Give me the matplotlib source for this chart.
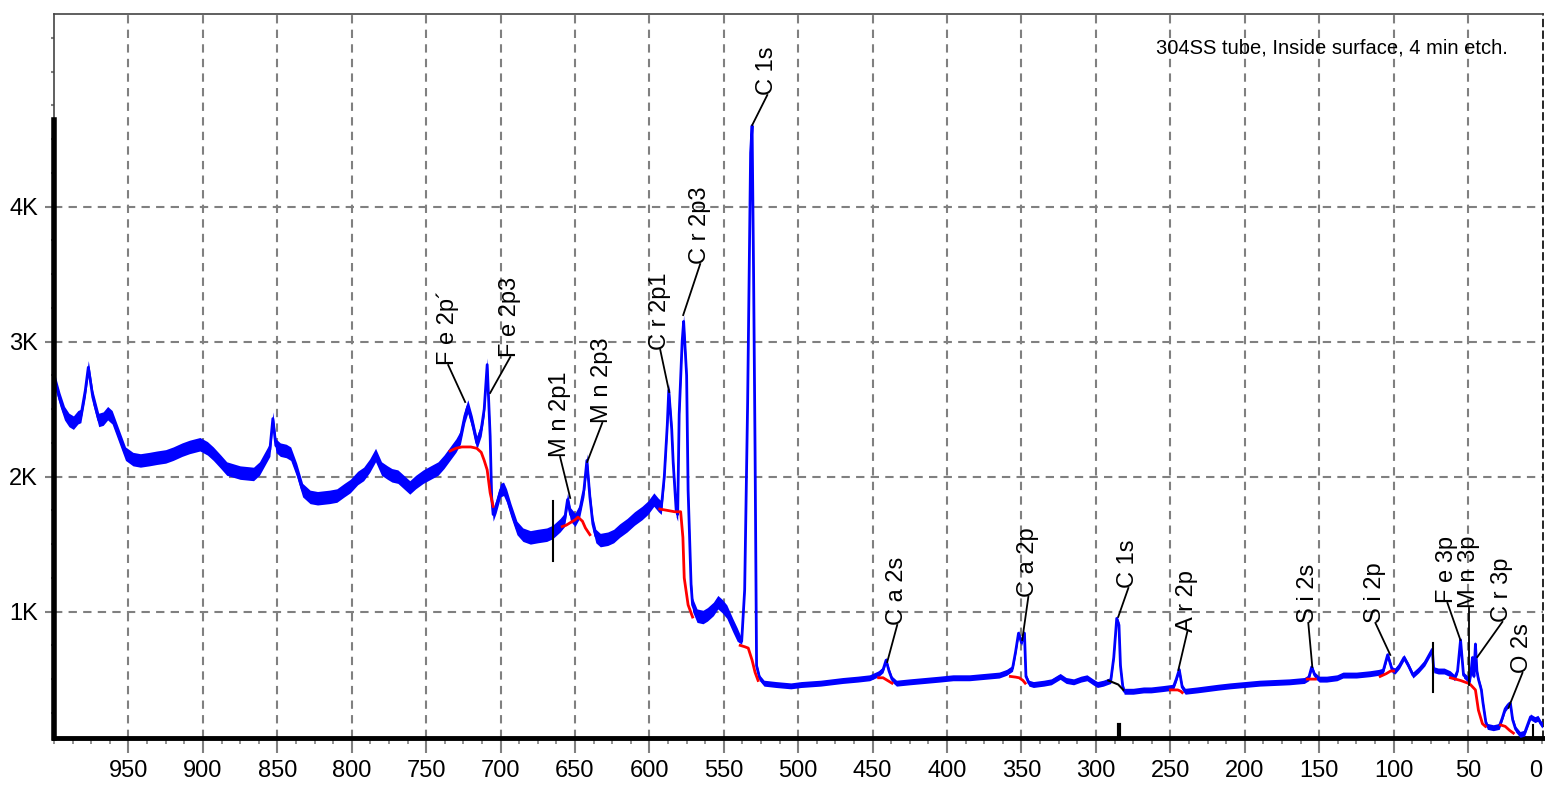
import numpy as np
import matplotlib
matplotlib.use("Agg")
import matplotlib.pyplot as plt
from matplotlib import font_manager as fm
from matplotlib.ticker import MultipleLocator, FixedLocator

# pick a narrow font for the tick labels if it is there
narrow = "Liberation Sans Narrow"
try:
    fm.findfont(fm.FontProperties(family=narrow), fallback_to_default=False)
except Exception:
    narrow = "Liberation Sans"
plt.rcParams["font.family"] = ["Liberation Sans", "DejaVu Sans"]

# survey spectrum, binding energy (eV) vs counts
be = [1000, 999, 996, 993, 990, 987, 984, 982, 979, 977, 974, 970, 967, 964, 961, 957, 952,
      947, 942, 936, 931, 925, 920, 914, 909, 902, 897, 893, 888, 884, 875, 866, 862, 859,
      855, 853, 851, 848, 844, 841, 837, 833, 828, 823, 815, 810, 805, 801, 796, 792, 788,
      784, 780, 776, 773, 769, 765, 761, 757, 752, 747, 742, 738, 734, 730, 727, 724, 722,
      719, 716, 713, 711, 709, 707, 706, 705, 703, 700, 698, 696, 693, 689, 685, 680, 675,
      669, 665, 660, 657, 655, 653, 650, 647, 644, 642, 640, 638, 636, 633, 628, 624, 620,
      615, 610, 605, 601, 597, 594, 592, 590, 588, 587, 585, 584, 582, 581, 580, 578, 577,
      575, 574, 572, 571, 568, 564, 561, 557, 554, 551, 548, 544, 541, 538, 536, 534, 532,
      531, 530, 529, 528, 526, 523, 515, 505, 498, 485, 470, 460, 452, 446, 443, 441, 439,
      437, 434, 425, 415, 405, 396, 385, 375, 365, 360, 356, 354, 352, 350, 348, 347, 345,
      342, 335, 330, 324, 320, 315, 310, 306, 302, 299, 295, 290, 288, 286, 284.5, 283.5,
      282, 281, 275, 268, 263, 255, 248, 246, 244, 242, 240, 232, 225, 218, 210, 200, 190,
      180, 170, 160, 157, 155, 153, 150, 145, 138, 134, 125, 116, 110, 107, 104, 101, 99,
      96, 93, 90, 87, 83, 79, 76, 74, 73, 70, 66, 62, 59, 57, 55, 53, 51, 49, 48, 47, 46,
      45, 44, 43, 41, 40, 38, 37, 33, 29, 27, 25, 23, 21.5, 20, 18, 15, 12, 10, 8, 5, 3, 1, 0]
counts = [2700, 2690, 2570, 2470, 2420, 2400, 2440, 2450, 2640, 2810, 2590, 2420, 2430, 2470,
          2440, 2320, 2170, 2130, 2120, 2130, 2140, 2150, 2170, 2200, 2220, 2240, 2210, 2170,
          2110, 2060, 2030, 2020, 2060, 2120, 2200, 2430, 2230, 2200, 2190, 2170, 2050, 1900,
          1850, 1840, 1850, 1860, 1900, 1930, 1990, 2020, 2080, 2160, 2060, 2030, 2010, 2000,
          1960, 1920, 1960, 2000, 2030, 2060, 2110, 2170, 2230, 2290, 2450, 2520, 2400, 2250,
          2350, 2500, 2830, 2300, 1850, 1720, 1780, 1900, 1910, 1860, 1750, 1620, 1570, 1550,
          1560, 1570, 1590, 1640, 1680, 1830, 1720, 1680, 1740, 1900, 2120, 1850, 1650, 1560,
          1530, 1540, 1560, 1600, 1640, 1690, 1730, 1770, 1830, 1790, 1770, 2000, 2380, 2640,
          2350, 2100, 1750, 1720, 2460, 3000, 3150, 2750, 1900, 1200, 1050, 970, 960, 980,
          1020, 1070, 1040, 1000, 900, 830, 780, 1160, 2550, 4400, 4600, 3500, 2180, 600, 510,
          470, 460, 450, 460, 470, 490, 500, 510, 540, 570, 640, 560, 500, 470, 480, 490, 500,
          510, 510, 520, 530, 550, 580, 700, 840, 770, 840, 520, 470, 460, 470, 480, 520, 490,
          480, 500, 510, 480, 460, 470, 490, 660, 950, 900, 600, 450, 410, 410, 420, 420, 430,
          440, 500, 570, 440, 410, 420, 430, 440, 450, 460, 470, 475, 480, 490, 510, 590, 530,
          500, 500, 510, 530, 530, 540, 550, 560, 680, 570, 560, 600, 660, 600, 530, 570, 620,
          680, 720, 570, 560, 560, 540, 510, 560, 790, 530, 510, 480, 550, 660, 520, 760, 560,
          500, 420, 330, 180, 150, 140, 150, 210, 280, 310, 320, 200, 130, 90, 100, 160, 220,
          200, 210, 170, 160]

# fitted backgrounds under the peaks (nan separates the pieces)
nan = np.nan
bg_be = [734, 730, 726, 720, 716, 713, 711, 709, 707, 705, nan,
         658.6, 656, 653, 650, 648, 645, 643, 640, nan,
         593, 588, 583, 579, 577.5, 576.6, 574, 571, nan,
         539, 536, 533.6, 531, 529, 527, nan,
         446, 443, 440, 437, nan,
         357.5, 354, 351.6, 349, 347.5, nan,
         250, 245, 243, 242, nan,
         158, 152.5, nan,
         109, 105, 102, 100, nan,
         61.8, 55, 50, 48.4, 45, 43, 40.3, 38.3, nan,
         28, 25, 22, 19.5]
bg_counts = [2190, 2210, 2220, 2220, 2210, 2180, 2120, 2050, 1880, 1780, nan,
             1630, 1640, 1660, 1680, 1700, 1670, 1620, 1570, nan,
             1760, 1750, 1740, 1740, 1550, 1250, 1050, 960, nan,
             750, 740, 730, 640, 550, 490, nan,
             510, 510, 490, 470, nan,
             520, 515, 510, 490, 470, nan,
             420, 420, 410, 400, nan,
             500, 500, nan,
             520, 540, 560, 560, nan,
             510, 490, 470, 460, 420, 270, 170, 150, nan,
             160, 150, 120, 100]
c1s_bg_be = [291.7, 285, 281.6]
c1s_bg_counts = [490, 460, 420]

# peak labels
labels = ["F e 2p\u00b4", "F e 2p3", "M n 2p1", "M n 2p3", "C r 2p1", "C r 2p3", "C 1s",
          "C a 2s", "C a 2p", "C 1s", "A r 2p", "S i 2s", "S i 2p", "F e 3p", "M n 3p",
          "C r 3p", "O 2s"]
peak_be = [723.8, 707, 653.2, 641.8, 586.7, 577.3, 530.9, 440.2, 349.5, 285, 244.6, 154.6,
           102.2, 55.1, 49, 43.7, 22.8]
peak_ct = [2553, 2620, 1842, 2109, 2627, 3197, 4605, 627, 790, 961, 568, 590, 679, 790,
           457, 664, 287]
label_be = [735.2, 693.5, 660, 631.7, 592.7, 565.9, 520.8, 433.5, 345.4, 278.2, 238.6,
            157.3, 112.2, 63.8, 49, 26.9, 13.4]
label_ct = [2827, 2886, 2146, 2398, 2939, 3575, 4827, 901, 1109, 1175, 850, 916, 916,
            1064, 1027, 924, 546]

# region markers
marker_be = [664.6, 73.3, 284.3, 6]
marker_lo = [1374, 405, 64, 80]
marker_hi = [1818, 768, 160, 160]

title = "304SS tube, Inside surface, 4 min etch."

be = np.array(be)
counts = np.array(counts)
noise = np.where(be > 538, 50, 22)

fig = plt.figure(figsize=(15.45, 7.86), dpi=100)
ax = fig.add_axes([0.035, 0.0611, 0.9638, 0.921])

grey = "#808080"
ax.set_xlim(1000, -0.5)
ax.set_ylim(64, 5427)

ax.fill_between(be, counts - noise, counts + noise, color="#0000ff", lw=0, zorder=3)
ax.plot(be, counts, color="#0000ff", lw=2, zorder=3)
ax.plot(bg_be, bg_counts, color="#ff0000", lw=2, zorder=4)
ax.plot(c1s_bg_be, c1s_bg_counts, color="black", lw=1.5, zorder=4)

for x, lo, hi in zip(marker_be, marker_lo, marker_hi):
    ax.plot([x, x], [lo, hi], color="black", lw=3 if x == 284.3 else 1.5, zorder=5, clip_on=False)

for name, px, py, lx, ly in zip(labels, peak_be, peak_ct, label_be, label_ct):
    ax.plot([px, lx], [py, ly], color="black", lw=1.3, zorder=5)
    ax.text(lx, ly, name, rotation=90, ha="center", va="bottom", fontsize=17, zorder=6)

ax.text(0.976, 0.953, title, transform=ax.transAxes, ha="right", va="center", fontsize=14.5)

# ticks and grid
xt = np.arange(950, 0, -50)
ax.xaxis.set_major_locator(FixedLocator(xt))
ax.xaxis.set_minor_locator(MultipleLocator(12.5))
ax.yaxis.set_major_locator(FixedLocator([1000, 2000, 3000, 4000]))
ax.yaxis.set_minor_locator(MultipleLocator(250))
ax.set_xticklabels([str(v) for v in xt], fontfamily=narrow, fontsize=17)
ax.set_yticklabels(["1K", "2K", "3K", "4K"], fontfamily=narrow, fontsize=17)
ax.tick_params(axis="x", which="major", length=11, width=1.5, color=grey, pad=5)
ax.tick_params(axis="x", which="minor", length=4.5, width=1.2, color=grey)
ax.tick_params(axis="y", which="major", length=6.5, width=1.5, color=grey, pad=5)
ax.tick_params(axis="y", which="minor", length=2.5, width=1.5, color=grey)
ax.grid(True, which="major", color=grey, ls=(0, (4, 3)), lw=1.5)
ax.set_axisbelow(True)

for s in ["top", "left", "right"]:
    ax.spines[s].set_color("#444444")
    ax.spines[s].set_linewidth(1.2)
ax.spines["right"].set_linestyle((0, (4, 3)))
ax.spines["right"].set_color("black")
ax.spines["bottom"].set_color("black")
ax.spines["bottom"].set_linewidth(3.5)
ax.plot([1000, 1000], [64, 4640], color="black", lw=4, clip_on=False, zorder=6)

fig.canvas.draw()
# the "0" at the right end of the axis, on the same line as the other tick labels
lab0 = ax.get_xticklabels()[0]
ax.text(0, lab0.get_position()[1], "0", transform=lab0.get_transform(), ha="right",
        va=lab0.get_va(), fontfamily=narrow, fontsize=17, clip_on=False)

fig.savefig("out.png", dpi=100)
